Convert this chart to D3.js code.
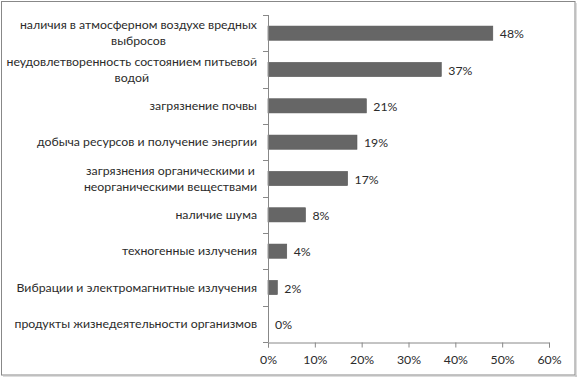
<!DOCTYPE html>
<html>
<head>
<meta charset="utf-8">
<script src="https://cdn.jsdelivr.net/npm/d3@7"></script>
<style>
  body { margin: 0; background: #fff; }
  svg { display: block; }
  text { font-family: Lato, "Open Sans", sans-serif; fill: #2b2b2b; }
</style>
</head>
<body>
<div id="chart"></div>
<script>
// ============================
// Data
// ============================
const categories = [
  ["наличия в атмосферном воздухе вредных", "выбросов"],
  ["неудовлетворенность состоянием питьевой", "водой"],
  ["загрязнение почвы"],
  ["добыча ресурсов и получение энергии"],
  ["загрязнения органическими и", "неорганическими веществами"],
  ["наличие шума"],
  ["техногенные излучения"],
  ["Вибрации и электромагнитные излучения"],
  ["продукты жизнедеятельности организмов"]
];
const values = [48, 37, 21, 19, 17, 8, 4, 2, 0];
const xTicks = [0, 10, 20, 30, 40, 50, 60];

const width = 577, height = 377;
const margin = {top: 15, right: 28, bottom: 35, left: 268};
const fontSize = "12.3px";

const svg = d3.select("#chart").append("svg")
  .attr("width", width).attr("height", height);

// outer frame
svg.append("rect")
  .attr("x", 1.5).attr("y", 1.5)
  .attr("width", width - 3.5).attr("height", height - 3.5)
  .attr("fill", "#fff").attr("stroke", "#888").attr("stroke-width", 1);
svg.append("line").attr("x1", width - 1).attr("x2", width - 1)
  .attr("y1", 3).attr("y2", height).attr("stroke", "#bbb");
svg.append("line").attr("x1", 3).attr("x2", width)
  .attr("y1", height - 1).attr("y2", height - 1).attr("stroke", "#bbb");

const idx = d3.range(categories.length);

const xscale = d3.scaleLinear()
  .domain([0, 60])
  .range([margin.left, width - margin.right]);

const yscale = d3.scaleBand()
  .domain(idx)
  .range([margin.top, height - margin.bottom])
  .paddingInner(0.61).paddingOuter(0.305);

// bars
svg.append("g")
  .selectAll("rect")
  .data(idx)
  .join("rect")
  .attr("x", xscale(0))
  .attr("y", i => yscale(i))
  .attr("width", i => xscale(values[i]) - xscale(0))
  .attr("height", yscale.bandwidth())
  .attr("fill", "#666")
  .attr("stroke", "#555")
  .attr("stroke-width", 0.6);

// value labels
svg.append("g")
  .selectAll("text")
  .data(idx)
  .join("text")
  .attr("x", i => xscale(values[i]) + 7)
  .attr("y", i => yscale(i) + yscale.bandwidth() / 2 + 1)
  .attr("dy", "0.35em")
  .attr("font-size", fontSize)
  .text(i => values[i] + "%");

// y axis (ticks between categories)
const plotTop = margin.top, plotBottom = height - margin.bottom;
const step = (plotBottom - plotTop) / categories.length;
const yAxisG = svg.append("g").attr("stroke", "#888");
yAxisG.append("line")
  .attr("x1", xscale(0) + 0.5).attr("x2", xscale(0) + 0.5)
  .attr("y1", plotTop).attr("y2", plotBottom);
yAxisG.selectAll(".ytick")
  .data(d3.range(categories.length + 1))
  .join("line")
  .attr("class", "ytick")
  .attr("x1", xscale(0) - 5).attr("x2", xscale(0) + 0.5)
  .attr("y1", k => Math.round(plotTop + k * step) + 0.5)
  .attr("y2", k => Math.round(plotTop + k * step) + 0.5);

// category labels
const labelG = svg.append("g")
  .attr("text-anchor", "middle")
  .attr("font-size", fontSize);
const lineH = 16;
labelG.selectAll("text")
  .data(idx)
  .join("text")
  .each(function(i) {
    const lines = categories[i];
    const t = d3.select(this)
      .attr("y", yscale(i) + yscale.bandwidth() / 2 - (lines.length - 1) * lineH / 2);
    lines.forEach((ln, j) => {
      t.append("tspan")
        .attr("x", 0)
        .attr("dy", j === 0 ? "0.35em" : lineH)
        .text(ln);
    });
  })
  .attr("transform", function() {
    const w = this.getBBox().width;
    return `translate(${xscale(0) - 11 - w / 2},0)`;
  });

// x axis
const xAxis = d3.axisBottom(xscale)
  .tickValues(xTicks)
  .tickSize(5)
  .tickFormat(d => d + "%");
const xg = svg.append("g")
  .attr("transform", `translate(0,${Math.round(plotBottom) + 0.5})`)
  .call(xAxis);
xg.select(".domain").attr("stroke", "#888");
xg.selectAll(".tick line").attr("stroke", "#888");
xg.selectAll(".tick text")
  .attr("font-size", fontSize)
  .attr("font-family", "Lato, Open Sans, sans-serif")
  .attr("fill", "#2b2b2b")
  .attr("dy", "1.1em");
</script>
</body>
</html>
